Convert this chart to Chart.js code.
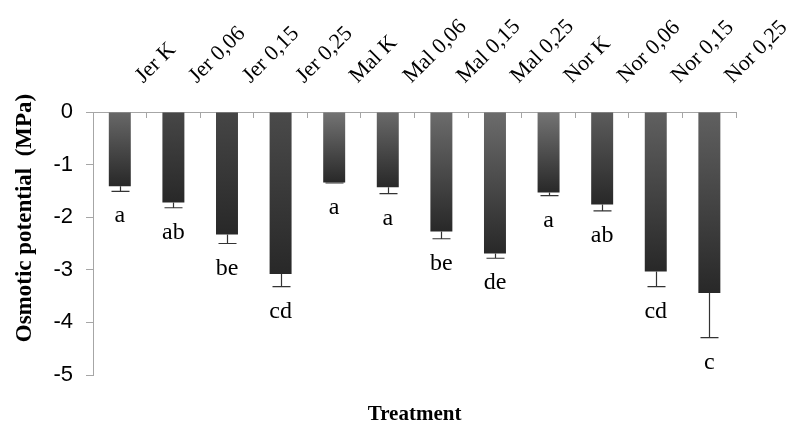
<!DOCTYPE html>
<html>
<head>
<meta charset="utf-8">
<script src="https://cdn.jsdelivr.net/npm/chart.js@4/dist/chart.umd.min.js"></script>
<style>
  html, body { margin: 0; padding: 0; background: #ffffff; }
  #wrap { width: 796px; height: 434px; }
</style>
</head>
<body>
<div id="wrap"><canvas id="chart" width="796" height="434"></canvas></div>
<script>
// Osmotic potential (MPa) per treatment, with standard errors and significance groups
const treatments = ['Jer K', 'Jer 0,06', 'Jer 0,15', 'Jer 0,25',
                    'Mal K', 'Mal 0,06', 'Mal 0,15', 'Mal 0,25',
                    'Nor K', 'Nor 0,06', 'Nor 0,15', 'Nor 0,25'];
const osmoticPotential = [-1.41, -1.72, -2.33, -3.08,
                          -1.34, -1.43, -2.27, -2.69,
                          -1.53, -1.76, -3.03, -3.44];
const standardError = [0.10, 0.10, 0.17, 0.24,
                       0.01, 0.12, 0.14, 0.09,
                       0.06, 0.12, 0.29, 0.85];
const significance = ['a', 'ab', 'be', 'cd',
                      'a', 'a', 'be', 'de',
                      'a', 'ab', 'cd', 'c'];
const yTicks = [0, -1, -2, -3, -4, -5];

// Fill shades: each bar fades from its top shade to a dark base
const topShades = ['#686868', '#474747', '#464646', '#4a4a4a',
                   '#747474', '#6a6a6a', '#6c6c6c', '#6c6c6c',
                   '#747474', '#5c5c5c', '#606060', '#606060'];
const baseShade = '#282828';
const axisGray = '#a6a6a6';
const serif = "'Liberation Serif', 'Times New Roman', serif";
const sans = "'Liberation Sans', Arial, sans-serif";

function barFill(context) {
  const chart = context.chart;
  const y = chart.scales.y;
  const i = context.dataIndex;
  if (!y || !chart.chartArea) return topShades[i];
  const y0 = y.getPixelForValue(0);
  const y1 = y.getPixelForValue(osmoticPotential[i]);
  const g = chart.ctx.createLinearGradient(0, y0, 0, y1);
  g.addColorStop(0, topShades[i]);
  g.addColorStop(1, baseShade);
  return g;
}

// Error bars (lower side only), significance letters and the y-axis title
const annotations = {
  id: 'annotations',
  afterDatasetsDraw(chart) {
    const ctx = chart.ctx;
    const y = chart.scales.y;
    const meta = chart.getDatasetMeta(0);
    ctx.save();
    meta.data.forEach((bar, i) => {
      const yEnd = y.getPixelForValue(osmoticPotential[i] - standardError[i]);
      const x = Math.round(bar.x) + 0.5;
      ctx.strokeStyle = '#333333';
      ctx.lineWidth = 1.2;
      ctx.beginPath();
      ctx.moveTo(x, bar.y);
      ctx.lineTo(x, yEnd);
      ctx.moveTo(x - 9, yEnd);
      ctx.lineTo(x + 9, yEnd);
      ctx.stroke();

      ctx.fillStyle = '#000000';
      ctx.font = '24px ' + serif;
      ctx.textAlign = 'center';
      ctx.textBaseline = 'alphabetic';
      ctx.fillText(significance[i], bar.x, yEnd + 31);
    });
    ctx.restore();
  },
  afterDraw(chart) {
    const ctx = chart.ctx;
    ctx.save();
    ctx.translate(31, 218);
    ctx.rotate(-Math.PI / 2);
    ctx.fillStyle = '#000000';
    ctx.font = 'bold 23px ' + serif;
    ctx.textAlign = 'center';
    ctx.textBaseline = 'alphabetic';
    ctx.fillText('Osmotic potential  (MPa)', 0, 0);
    ctx.restore();
  }
};

new Chart(document.getElementById('chart'), {
  type: 'bar',
  data: {
    labels: treatments,
    datasets: [{
      data: osmoticPotential,
      backgroundColor: barFill,
      borderWidth: 0,
      barPercentage: 0.41,
      categoryPercentage: 1.0
    }]
  },
  options: {
    responsive: false,
    devicePixelRatio: 1,
    animation: false,
    layout: { padding: { left: 0, right: 56, top: 0, bottom: 0 } },
    plugins: {
      legend: { display: false },
      tooltip: { enabled: false }
    },
    scales: {
      x: {
        position: 'top',
        offset: true,
        grid: {
          offset: true,
          drawOnChartArea: false,
          drawTicks: true,
          tickLength: -6,
          color: axisGray
        },
        border: { color: axisGray, width: 1 },
        ticks: {
          minRotation: 45,
          maxRotation: 45,
          autoSkip: false,
          labelOffset: 38,
          padding: 29,
          color: '#000000',
          font: { family: serif, size: 22 }
        },
        afterFit(scale) { scale.height = 112; }
      },
      x2: {
        type: 'category',
        labels: treatments,
        position: 'bottom',
        offset: true,
        grid: { display: false },
        border: { display: false },
        ticks: { display: false },
        title: {
          display: true,
          text: 'Treatment',
          color: '#000000',
          font: { family: serif, size: 21, weight: 'bold' },
          padding: { top: 0, bottom: 7 }
        },
        afterFit(scale) { scale.height = 59; }
      },
      y: {
        min: -5,
        max: 0,
        afterBuildTicks(scale) {
          scale.ticks = yTicks.map(v => ({ value: v }));
        },
        grid: {
          drawOnChartArea: false,
          drawTicks: true,
          tickLength: 7,
          color: axisGray
        },
        border: { color: axisGray, width: 1 },
        ticks: {
          padding: 13,
          color: '#000000',
          font: { family: sans, size: 22 },
          callback: v => String(v)
        },
        afterFit(scale) { scale.width = 93; }
      }
    }
  },
  plugins: [annotations]
});
</script>
</body>
</html>
